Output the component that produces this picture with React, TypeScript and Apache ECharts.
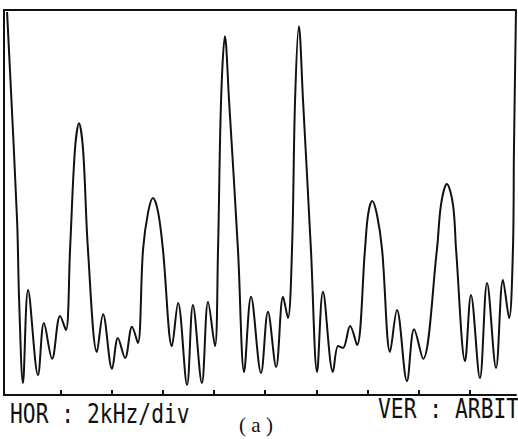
import React, { useEffect, useRef } from "react";
import * as echarts from "echarts";

// Frequency (kHz, 2 kHz per division) and arbitrary amplitude of the trace
const freqKHz = [0.12,0.51,0.59,0.74,0.94,1.33,1.56,1.88,2.19,2.42,2.58,2.77,2.93,3.09,3.28,3.63,3.87,4.22,4.45,4.73,5.0,5.23,5.43,5.63,5.82,6.02,6.21,6.56,6.80,7.15,7.38,7.73,7.97,8.24,8.36,8.48,8.63,8.79,9.14,9.38,9.65,10.04,10.31,10.63,10.90,11.09,11.25,11.37,11.52,11.68,11.99,12.23,12.46,12.85,13.05,13.24,13.52,13.79,14.10,14.22,14.38,14.57,14.77,15.08,15.35,15.74,16.02,16.37,16.91,17.07,17.30,17.54,17.66,18.01,18.24,18.59,18.87,19.22,19.49,19.73,19.88,19.92,20.0];
const amplitude = [99.5,45.5,24.7,3.1,27.3,5.2,18.7,9.4,20.5,16.9,37.7,63.6,70.6,63.6,37.7,11.2,21.0,6.8,14.8,9.6,17.7,13.5,37.7,47.5,51.2,47.5,37.7,12.7,23.9,2.6,23.4,3.1,24.2,12.7,37.7,76.6,93.2,76.6,37.7,6.0,25.5,5.7,21.6,7.3,25.5,20.0,37.7,76.6,95.8,76.6,37.7,6.0,26.8,6.0,12.7,12.2,17.9,13.0,37.7,46.8,50.4,46.8,37.7,11.2,22.1,3.6,17.1,9.4,37.7,49.4,54.8,49.4,37.7,8.8,26.0,4.4,29.1,7.0,29.9,20.0,37.7,63.6,100];
const tickKHz = [2.2,4.2,6.2,8.2,10.2,12.2,14.2,16.2,18.2];
const horLabel = "HOR : 2kHz/div";
const verLabel = "VER : ARBIT";
const captionLabel = "( a )";

const INK = "#111";

export default function App() {
  const ref = useRef<HTMLDivElement>(null);
  useEffect(() => {
    document.body.style.margin = "0";
    const chart = echarts.init(ref.current!, null, { renderer: "svg" });
    const data = freqKHz.map((f, i) => [f, amplitude[i]]);
    chart.setOption({
      animation: false,
      backgroundColor: "#fff",
      grid: { left: 4, right: 2, top: 10, bottom: 44, show: false },
      xAxis: [
        {
          type: "value",
          min: 0,
          max: 20,
          position: "bottom",
          axisLine: { show: true, onZero: false, lineStyle: { color: INK, width: 2 } },
          axisTick: { show: true, inside: true, length: 5, customValues: tickKHz, lineStyle: { color: INK, width: 2 } },
          axisLabel: { show: false },
          splitLine: { show: false },
        },
        {
          type: "value",
          min: 0,
          max: 20,
          position: "top",
          axisLine: { show: true, onZero: false, lineStyle: { color: INK, width: 2 } },
          axisTick: { show: false },
          axisLabel: { show: false },
          splitLine: { show: false },
        },
      ],
      yAxis: {
        type: "value",
        min: 0,
        max: 100,
        axisLine: { show: true, onZero: false, lineStyle: { color: INK, width: 2 } },
        axisTick: { show: false },
        axisLabel: { show: false },
        splitLine: { show: false },
      },
      series: [
        {
          type: "line",
          data,
          smooth: 0.35,
          symbol: "none",
          clip: true,
          lineStyle: { color: INK, width: 2 },
        },
      ],
      graphic: [
        {
          type: "text",
          x: 10,
          y: 414,
          scaleX: 0.82,
          style: { text: horLabel, fill: INK, font: '26px "DejaVu Sans Mono"', textVerticalAlign: "middle" },
        },
        {
          type: "text",
          x: 378,
          y: 409,
          scaleX: 0.82,
          style: { text: verLabel, fill: INK, font: '26px "DejaVu Sans Mono"', textVerticalAlign: "middle" },
        },
        {
          type: "text",
          x: 256,
          y: 425,
          style: { text: captionLabel, fill: INK, font: '21px "Liberation Serif"', textAlign: "center", textVerticalAlign: "middle" },
        },
      ],
    });
    return () => chart.dispose();
  }, []);
  return <div ref={ref} style={{ width: 518, height: 439 }} />;
}
